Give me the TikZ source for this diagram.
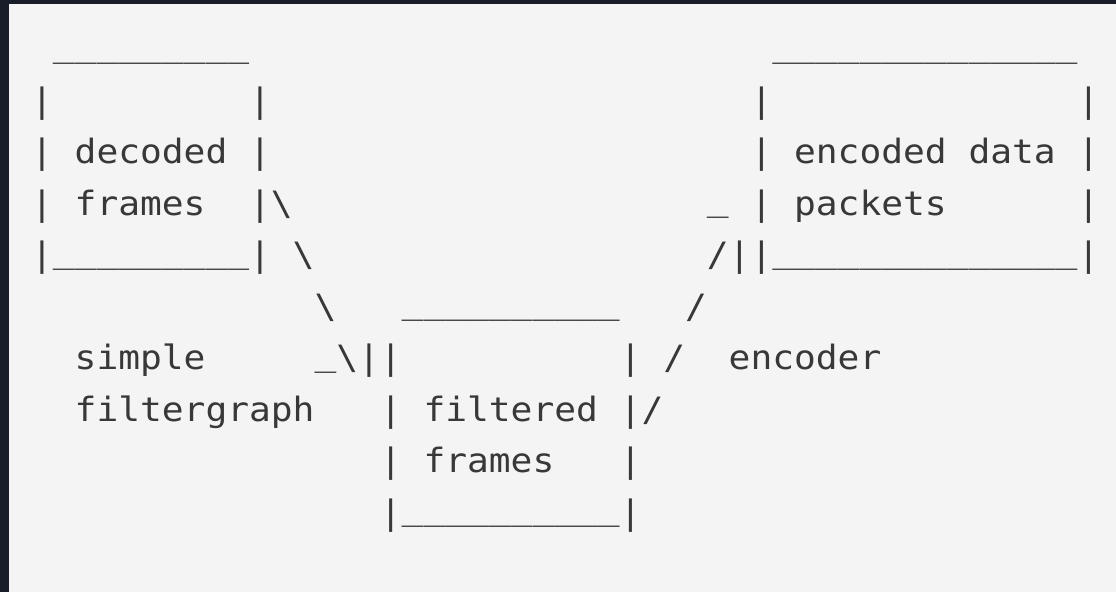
\documentclass[tikz,border=0pt]{standalone}
\usepackage{fontspec}
\newfontfamily\asciimono[FakeStretch=1.081]{DejaVu Sans Mono}
\definecolor{bgc}{HTML}{F4F4F4}
\definecolor{framec}{HTML}{181D29}
\definecolor{inkc}{HTML}{383838}
\newcommand\US{\raisebox{2.4pt}{\char"5F}}
\newcommand\BS{\char"5C\relax}
\tikzset{
  glyphs/.style={anchor=base west, inner sep=0pt, outer sep=0pt, text=inkc,
    font=\asciimono\fontsize{16.75pt}{16.75pt}\selectfont},
}
% place a run of characters at column #2, row #3
\newcommand\cell[4]{\node[glyphs] (#1) at ({31.1+#2*21.8},{61+(#3-1)*51.5}) {#4};}
\begin{document}
\begin{tikzpicture}[x=0.5pt,y=-0.5pt]
\useasboundingbox (0,0) rectangle (1116,592);
\fill[bgc] (0,0) rectangle (1116,592);
\fill[framec] (0,0) rectangle (1116,3.7);
\fill[framec] (0,0) rectangle (9,592);
% row 1
\cell{dtop}{1}{1}{\US\US\US\US\US\US\US\US\US}
\cell{etop}{34}{1}{\US\US\US\US\US\US\US\US\US\US\US\US\US\US}
% row 2
\cell{dl2}{0}{2}{|}
\cell{dr2}{10}{2}{|}
\cell{el2}{33}{2}{|}
\cell{er2}{48}{2}{|}
% row 3
\cell{dl3}{0}{3}{|}
\cell{dtxt1}{2}{3}{decoded}
\cell{dr3}{10}{3}{|}
\cell{el3}{33}{3}{|}
\cell{etxt1}{35}{3}{encoded data}
\cell{er3}{48}{3}{|}
% row 4
\cell{dl4}{0}{4}{|}
\cell{dtxt2}{2}{4}{frames}
\cell{dr4}{10}{4}{|\BS}
\cell{arr2a}{31}{4}{\US}
\cell{el4}{33}{4}{|}
\cell{etxt2}{35}{4}{packets}
\cell{er4}{48}{4}{|}
% row 5
\cell{dbot}{0}{5}{|\US\US\US\US\US\US\US\US\US|}
\cell{arr1a}{12}{5}{\BS}
\cell{ebot}{31}{5}{/||\US\US\US\US\US\US\US\US\US\US\US\US\US\US|}
% row 6
\cell{arr1b}{13}{6}{\BS}
\cell{ftop}{17}{6}{\US\US\US\US\US\US\US\US\US\US}
\cell{arr2b}{30}{6}{/}
% row 7
\cell{lbl1a}{2}{7}{simple}
\cell{arr1c}{13}{7}{\US\BS||}
\cell{fr7}{27}{7}{|}
\cell{arr2c}{29}{7}{/}
\cell{lbl2}{32}{7}{encoder}
% row 8
\cell{lbl1b}{2}{8}{filtergraph}
\cell{fl8}{16}{8}{|}
\cell{ftxt1}{18}{8}{filtered}
\cell{fr8}{27}{8}{|/}
% row 9
\cell{fl9}{16}{9}{|}
\cell{ftxt2}{18}{9}{frames}
\cell{fr9}{27}{9}{|}
% row 10
\cell{fbot}{16}{10}{|\US\US\US\US\US\US\US\US\US\US|}
\end{tikzpicture}
\end{document}
